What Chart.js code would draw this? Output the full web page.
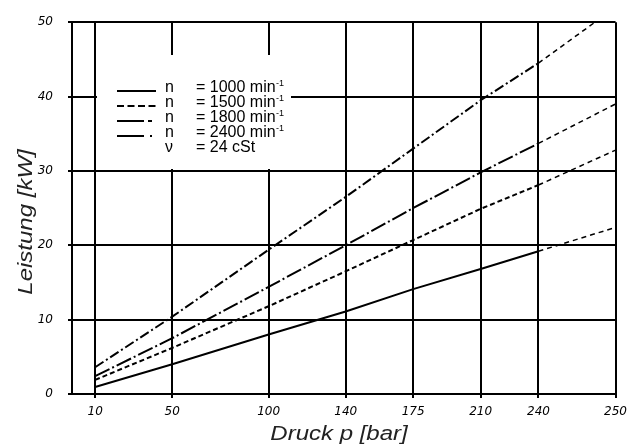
<!DOCTYPE html>
<html><head><meta charset="utf-8">
<script src="https://cdn.jsdelivr.net/npm/chart.js@4/dist/chart.umd.min.js"></script>
<style>html,body{margin:0;padding:0;background:#fff;}#wrap{width:634px;height:445px;position:relative}</style>
</head><body><div id="wrap"><canvas id="c" width="634" height="445"></canvas></div>
<script>
// ---- data ----
const pressure   = [10, 50, 100, 140, 175, 210, 240, 280];
const power1000  = [0.95, 4.0, 8.0, 11.1, 14.1, 16.8, 19.2, 22.4];
const power1500  = [1.9, 6.2, 11.8, 16.5, 20.7, 24.9, 28.1, 32.8];
const power1800  = [2.4, 7.5, 14.4, 20.0, 25.0, 29.8, 33.7, 39.0];
const power2400  = [3.6, 10.4, 19.4, 26.5, 33.0, 39.5, 44.5, 52.0];
const xTickValues = [10, 50, 100, 140, 175, 210, 240, 280];
const xTickLabels = ['10', '50', '100', '140', '175', '210', '240', '250'];
const yTickStep = 10;
const seriesSymbols = ['n', 'n', 'n', 'n'];
const seriesLabels = ['= 1000 min', '= 1500 min', '= 1800 min', '= 2400 min'];
const unitSuperscript = '-1';
const viscositySymbol = 'ν';
const viscosityLabel = '= 24 cSt';
const xTitle = 'Druck p [bar]';
const yTitle = 'Leistung [kW]';
const dashedFrom = 240;

const patterns = [[], [5, 3], [16, 3, 2, 3], [10, 3, 2, 3]];
const legendPatterns = [[], [7, 3.5], [27, 4, 4, 20], [27, 6, 2, 20]];
const seriesValues = [power1000, power1500, power1800, power2400];

const datasets = seriesValues.map((vals, k) => ({
  label: seriesSymbols[k] + ' ' + seriesLabels[k] + unitSuperscript,
  data: pressure.map((x, i) => ({x: x, y: vals[i]})),
  borderColor: '#000',
  borderWidth: 2,
  borderDash: patterns[k],
  pointRadius: 0,
  tension: 0,
  fill: false,
  segment: {
    borderDash: ctx => ctx.p0.parsed.x >= dashedFrom ? [5, 4] : patterns[k],
    borderWidth: ctx => ctx.p0.parsed.x >= dashedFrom ? 1.5 : 2
  }
}));

const overlay = {
  id: 'overlay',
  afterDatasetsDraw(chart) {
    const ctx = chart.ctx;
    ctx.save();
    // legend box (white, hides grid)
    ctx.fillStyle = '#fff';
    ctx.fillRect(97, 55, 194, 114);
    ctx.fillStyle = '#000';
    ctx.strokeStyle = '#000';
    const rowY = i => 88 + i * 15;
    for (let i = 0; i < 4; i++) {
      const y = rowY(i);
      ctx.lineWidth = 2;
      ctx.setLineDash(legendPatterns[i]);
      ctx.beginPath();
      ctx.moveTo(117, y + 3);
      ctx.lineTo(156, y + 3);
      ctx.stroke();
      ctx.setLineDash([]);
      ctx.font = '16px "Liberation Sans", Arial, sans-serif';
      ctx.textBaseline = 'middle';
      ctx.textAlign = 'left';
      ctx.fillText(seriesSymbols[i], 165, y);
      ctx.fillText(seriesLabels[i], 196, y);
      const w = ctx.measureText(seriesLabels[i]).width;
      ctx.font = '9px "Liberation Sans", Arial, sans-serif';
      ctx.fillText(unitSuperscript, 196 + w + 0.5, y - 4);
    }
    const y5 = rowY(4);
    ctx.font = '16px "Liberation Sans", Arial, sans-serif';
    ctx.textBaseline = 'middle';
    ctx.fillText(viscositySymbol, 165, y5);
    ctx.fillText(viscosityLabel, 196, y5);
    ctx.restore();
  },
  afterDraw(chart) {
    const ctx = chart.ctx;
    ctx.save();
    ctx.fillStyle = '#222';
    ctx.font = 'italic 20px "Liberation Sans", Arial, sans-serif';
    ctx.textAlign = 'center';
    ctx.textBaseline = 'alphabetic';
    ctx.save();
    ctx.translate(339, 440);
    ctx.scale(1.2, 1);
    ctx.fillText(xTitle, 0, 0);
    ctx.restore();
    ctx.save();
    ctx.translate(32, 222);
    ctx.rotate(-Math.PI / 2);
    ctx.scale(1.2, 1);
    ctx.fillText(yTitle, 0, 0);
    ctx.restore();
    ctx.restore();
  }
};

new Chart(document.getElementById('c'), {
  type: 'line',
  data: {datasets: datasets},
  options: {
    responsive: false,
    animation: false,
    devicePixelRatio: 1,
    layout: {padding: {top: 22, right: 13, left: 0, bottom: 0}},
    plugins: {legend: {display: false}, tooltip: {enabled: false}, title: {display: false}},
    scales: {
      x: {
        type: 'linear',
        min: -2,
        max: 280,
        afterBuildTicks: s => { s.ticks = xTickValues.map(v => ({value: v})); },
        afterFit: s => { s.height = 51; },
        ticks: {
          callback: v => xTickLabels[xTickValues.indexOf(v)],
          font: {family: '"DejaVu Sans", sans-serif', size: 12, style: 'italic'},
          color: '#000',
          padding: 7,
          maxRotation: 0,
          autoSkip: false
        },
        grid: {color: '#000', lineWidth: 2, tickLength: 4},
        border: {display: true, color: '#000', width: 2}
      },
      y: {
        min: 0,
        max: 50,
        afterFit: s => { s.width = 72; },
        ticks: {
          stepSize: yTickStep,
          font: {family: '"DejaVu Sans", sans-serif', size: 12, style: 'italic'},
          color: '#000',
          padding: 15
        },
        grid: {color: '#000', lineWidth: 2, tickLength: 4},
        border: {display: true, color: '#000', width: 2}
      }
    }
  },
  plugins: [overlay]
});
</script>
</body></html>
